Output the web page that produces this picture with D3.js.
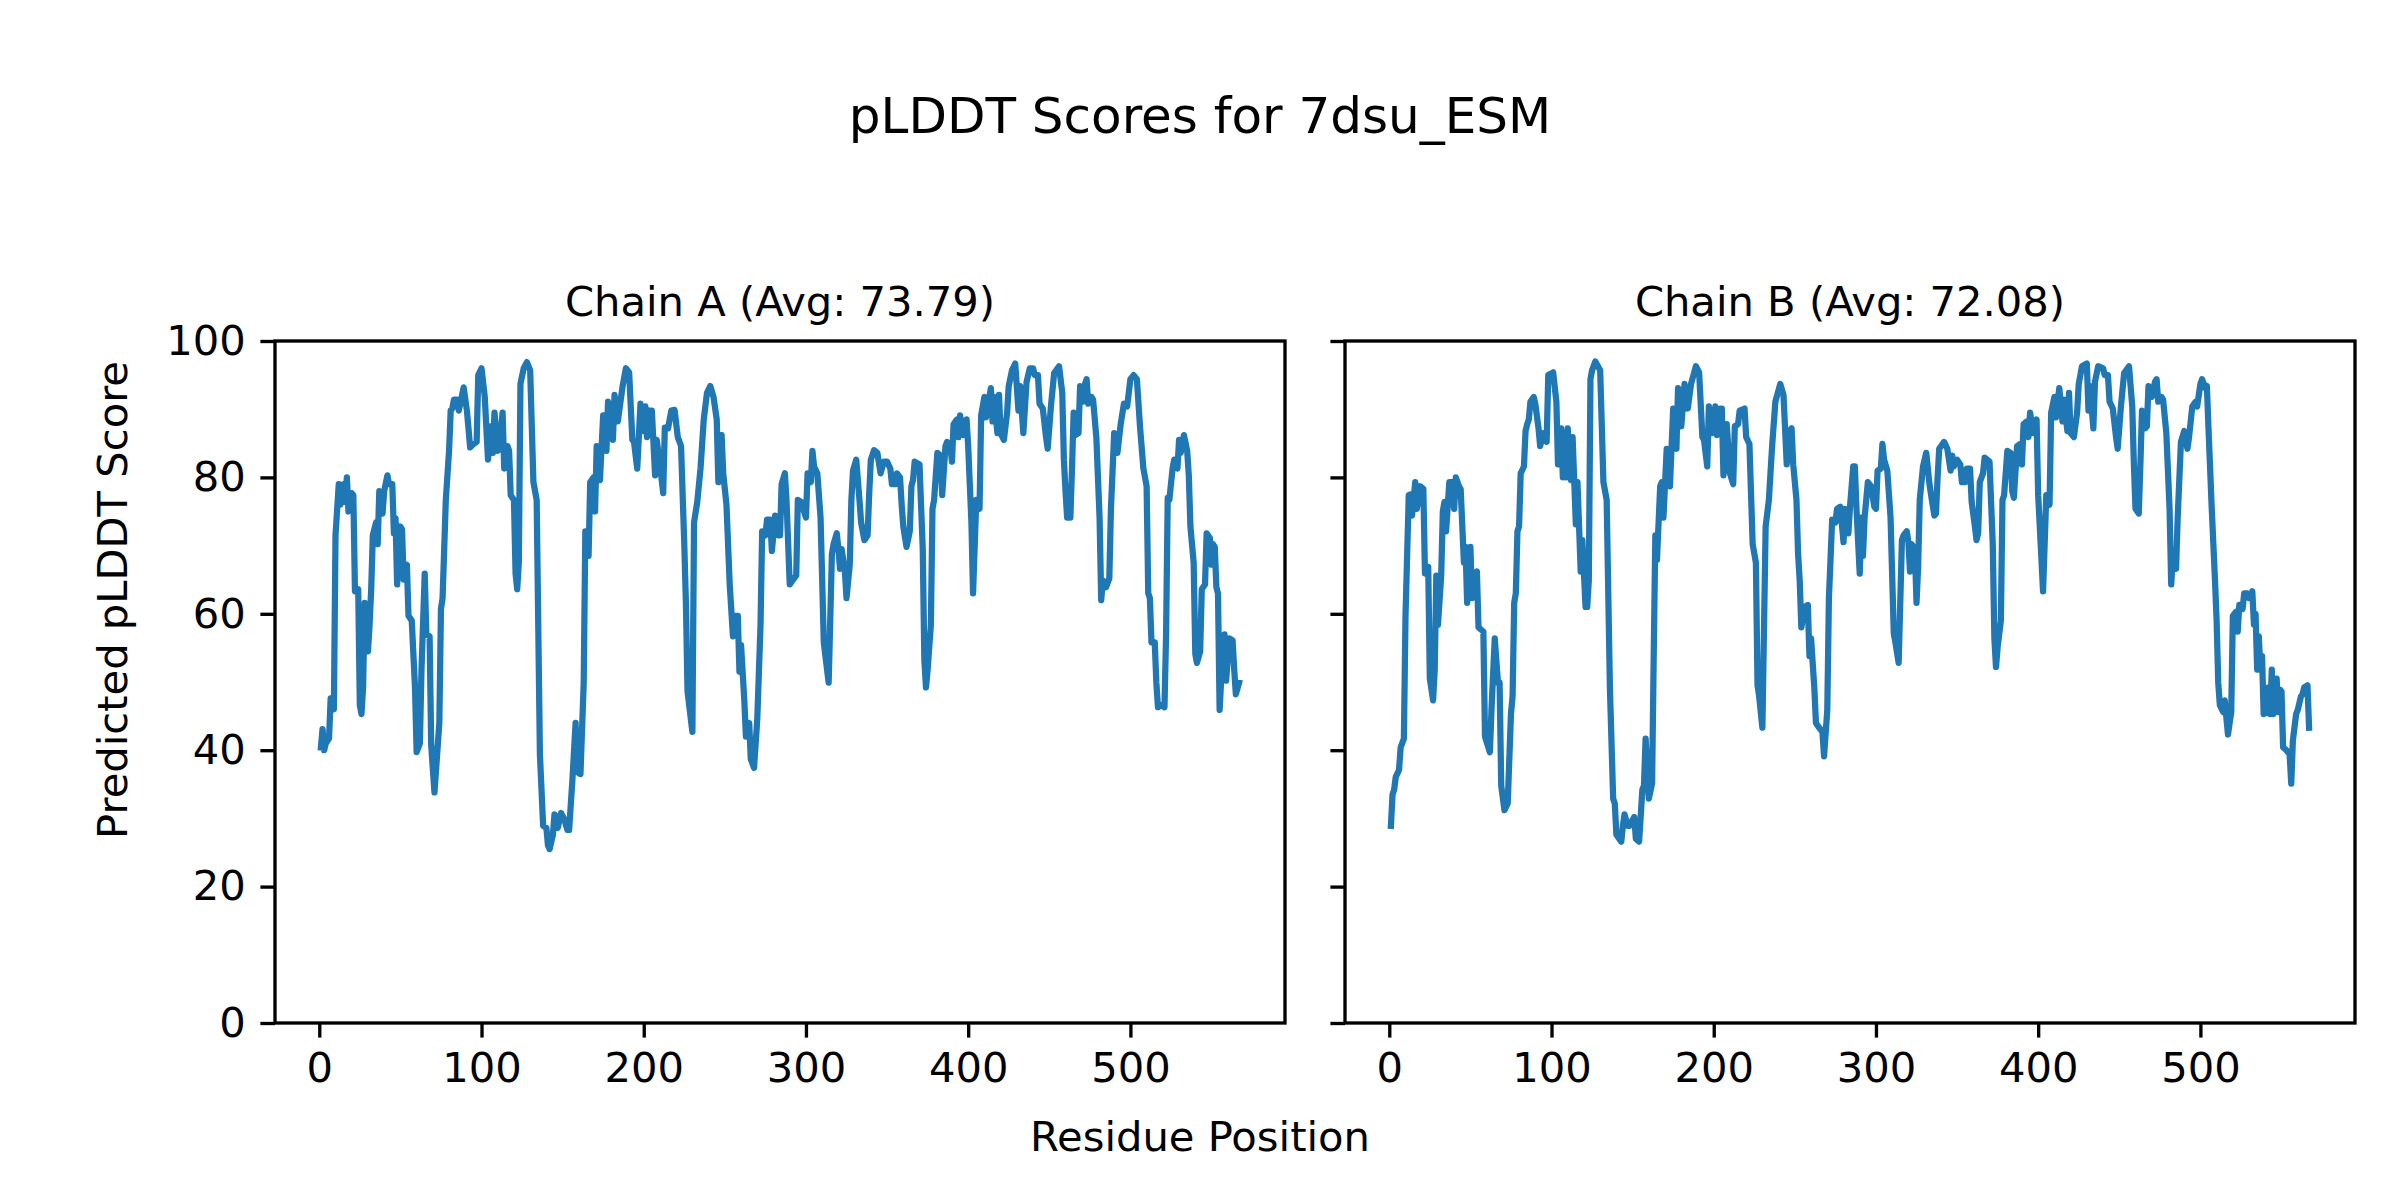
<!DOCTYPE html>
<html>
<head>
<meta charset="utf-8">
<script src="https://cdn.jsdelivr.net/npm/d3@7"></script>
<style>
  body { margin: 0; background: #fff; }
  svg { display: block; font-family: "DejaVu Sans", sans-serif; }
</style>
</head>
<body>
<svg id="chart" width="2400" height="1200"></svg>
<script>
// pLDDT per residue
var chainAPos = [1,2,3,4,6,7,9,10,12,13,15,16,17,18,19,20,21,22,24,25,26,27,28,30,31,32,33,35,36,37,39,40,42,43,45,46,47,48,50,51,52,54,55,57,59,60,62,63,65,66,68,69,71,74,75,76,78,80,81,82,83,85,86,89,91,93,95,97,98,100,102,104,106,107,108,110,111,113,114,116,117,118,120,121,122,123,124,126,128,130,132,134,136,138,140,141,142,144,145,147,149,151,153,154,156,158,159,161,163,164,166,167,169,170,171,173,175,177,178,181,182,184,187,189,191,193,194,196,198,200,201,202,203,205,207,208,210,212,213,215,217,219,221,223,225,226,227,230,231,233,235,237,239,241,243,245,246,248,249,251,253,255,256,258,259,260,262,263,265,266,268,270,272,273,275,276,278,279,281,283,284,285,287,288,290,292,294,295,297,300,301,303,304,305,307,309,311,312,314,316,317,319,320,321,322,324,325,327,328,329,331,333,334,336,338,339,340,342,344,346,348,350,352,353,355,356,358,359,360,362,364,365,366,367,370,372,373,374,375,377,378,379,381,383,384,386,387,389,390,391,393,394,395,397,399,400,402,403,405,407,408,410,411,414,415,416,418,419,420,422,424,425,427,429,431,432,434,436,438,440,441,443,444,446,448,449,451,453,456,458,459,460,461,463,464,465,466,468,469,471,472,473,474,476,477,479,481,482,483,485,487,488,490,491,492,494,496,498,500,502,504,506,508,510,511,512,513,515,516,517,519,521,522,523,524,526,527,529,530,531,533,535,536,537,539,540,541,543,544,546,547,549,550,551,552,553,554,555,556,558,559,561,563,564,565,567];
var chainAScore = [40.4,43.1,40,41,41.7,47.6,46,71.5,79,76,79,76.4,80,75,75.4,77.7,77.4,63.3,63.6,46.6,45.3,49.2,61.6,54.5,58.4,63.6,71.5,73.4,70.2,78,74.7,78,80.3,79,79,71.8,74,64.3,72.8,72.4,65,67.2,59.7,59,49.2,39.7,41,51.8,65.9,57,56.7,40.7,33.8,44,60.7,62.3,76.7,83.9,89.8,90.1,91.4,91.4,89.8,93.2,89.8,84.4,84.9,85.2,95,96,91.8,82.6,87.5,83.6,89.5,83.9,84.2,89.5,81.3,84.6,83.9,77.4,76.7,65.9,63.6,67.5,93.7,96,96.9,95.7,79.3,76.7,39.4,28.9,28.6,26,25.5,27.6,30.6,28.6,30.8,29.9,28.3,28.3,35.5,44,36.8,36.5,49.9,72.1,68.5,79.3,80,75,84.6,79.6,89.1,83.9,91.1,85.5,92.1,88.2,93.4,96,95.4,85.5,85.2,81.3,90.8,86.8,90.4,85.9,89.8,89.8,80.3,85.5,81.9,77.7,87.3,87.2,89.8,89.9,85.9,84.6,70.2,61.6,48.6,42.7,73.4,76.4,81.3,88.5,92.4,93.4,91.8,88.5,79.3,86.2,80.6,76,64.3,56.7,59.7,59.7,51.5,55.4,47.3,42,44,38.7,37.4,44.6,58.4,72.1,71.5,73.8,73.8,69.2,74.4,71.5,71.5,79,80.6,76.7,64.3,65,65.6,76.7,76.4,74.1,80.6,79.3,83.9,81.6,80.6,74.1,55.8,53.8,49.9,68.8,70.2,71.8,69.5,66.6,69.5,66.2,62.3,67.2,76.7,81,82.6,76.7,73.4,70.8,71.5,77.7,82.6,84,83.6,80.6,82.3,82.3,81.3,79,79,80.6,80,76,72.8,69.8,72.1,78.7,79.6,82.3,81.9,69.5,53.1,49.2,51.8,58.4,75.4,76.7,83.6,83.2,77.4,84.6,85.2,84.6,82.3,87.8,88.5,85.9,89.1,86.2,88.5,84.6,73.4,63,76.7,75.4,89.1,91.8,88.8,93.1,88.2,91.8,86.5,92.1,86.5,85.5,89.5,93.4,95.7,96.7,89.8,93.4,86.5,94,96,96,95,95,90.8,90.1,85.9,84.2,90.4,95.3,96.3,92.4,82.6,78,74.1,74.1,81.3,89.5,86.2,86.5,93.4,91.1,93.7,94.4,90.8,91.8,91.4,85.9,74.1,62,64.9,63.9,65.2,75.4,86.5,85.9,83.6,87.8,90.8,90.4,94.4,95,94.4,87.2,81.3,78.7,63,62.3,55.8,55.8,49.9,46.3,46.6,46.3,57.1,77,76.7,81.3,82.6,81.3,85.5,83.6,86.2,83.9,80.3,72.8,67.5,54.1,52.8,54.5,63.6,64.3,71.8,71.1,67.2,70.2,69.8,63.9,63,45.9,50.5,57,50.2,56.4,56.1,51.8,48.2,49.9];

var chainBPos = [1,2,3,4,6,7,9,10,12,13,14,16,17,19,21,22,24,25,27,28,29,30,32,33,34,35,37,39,40,41,43,44,46,47,48,50,51,52,54,55,58,59,62,63,65,67,68,69,71,73,75,76,77,78,79,80,81,83,84,85,86,87,89,90,92,93,95,97,98,101,103,104,106,107,108,109,110,112,113,115,116,118,119,121,122,123,124,125,127,130,132,134,136,138,139,140,143,144,145,147,148,151,152,154,156,157,158,160,162,163,164,165,167,168,169,171,173,175,177,178,180,182,184,186,189,191,193,194,196,197,199,201,202,204,205,206,208,210,212,213,215,216,219,220,222,224,226,227,228,230,232,234,236,238,241,243,245,246,248,249,251,252,253,254,256,258,259,260,262,263,265,267,268,270,271,273,275,276,278,280,281,283,284,286,287,288,290,291,292,293,295,297,299,300,301,303,304,305,307,309,311,312,314,316,317,319,320,321,322,324,325,326,327,329,331,333,334,336,337,338,339,342,344,346,347,348,350,352,353,355,356,358,359,361,362,363,364,366,367,370,372,373,374,375,377,378,379,381,383,384,385,387,389,390,391,393,394,395,397,399,400,401,403,405,407,408,410,411,413,415,416,418,419,420,422,424,425,427,430,431,432,434,435,437,440,441,443,444,446,448,449,451,453,456,458,459,460,462,463,464,466,467,468,470,472,473,474,476,477,479,481,482,483,485,486,488,490,492,493,495,497,498,500,501,503,504,505,507,509,510,511,512,514,515,517,519,520,522,523,524,526,527,529,530,532,533,534,535,536,537,538,539,541,542,543,544,545,547,548,549,550,551,553,555,556,557,559,560,562,563,564,566,567];
var chainBScore = [28.9,33.5,34.2,36.1,37.1,40.4,41.7,59.7,77.4,77.5,74.4,79.3,75.4,78.7,78.3,65.9,66.9,50.5,47.3,51.8,65.6,58.4,65.6,75,76.4,72.1,79.3,79.3,75.4,80,78.7,78.3,67.5,69.8,61.6,69.8,62.3,65.6,66.2,58,57.4,42,39.7,45.9,56.4,49.9,49.9,34.8,31.2,32.2,45.3,47.9,61.6,63,72.1,72.8,80.6,81.6,86.8,87.8,88.5,91.1,91.8,90.8,87.2,84.6,86.5,85.2,95,95.4,91.1,81.9,87.2,80,86.5,80,87.2,79.6,85.9,73.1,79.3,66.2,70.8,61,61,64.9,94.4,95.7,97,95.7,79.3,76.7,49.2,32.9,32.2,27.6,26.6,28.9,30.6,28.9,28.9,30.2,27,26.6,34.2,34.8,41.7,32.9,35.1,53.8,71.5,67.9,78.7,79.3,74.1,84.2,78.7,90.1,84.2,93.1,87.5,93.7,90.1,93.7,96.3,95.4,85.9,85.5,81.6,90.4,86.5,90.4,86.2,90.1,90.1,80.3,87.8,80.6,79,87.5,87.8,89.8,90.1,85.9,84.9,70.2,67.5,49.5,47.9,43.3,72.8,76.7,84.6,91.1,93.7,92.1,81.9,86.5,87.2,81.9,76.7,68.8,64.9,58,61,61.3,53.8,56.4,49.2,44,43.3,42.7,39.1,45.9,62.3,73.8,73.4,75.4,75.7,70.5,75.4,71.8,75.7,81.6,81.6,75.4,65.9,74.1,68.5,74.1,79.3,78.7,75.7,75.4,81,81.3,84.9,82.6,81,74.1,57.1,55.8,52.8,70.8,71.5,72.1,70.5,66.2,70.2,69.5,61.6,66.9,76.7,81.6,83.6,79,77.4,74.4,74.7,80,84.2,85.2,84.2,81,83.2,81.6,82.6,81.9,79.3,79.3,81.3,81.3,76.4,72.8,70.8,71.8,79.3,80.6,82.9,82.3,70.2,56.4,52.2,55.1,59,76.7,77.4,83.9,83.6,78,77,84.6,84.9,81.9,87.8,88.2,85.9,89.5,86.5,88.5,77.4,72.8,63.3,77.4,76,89.5,91.8,88.8,93.1,88.2,91.4,86.8,92.4,86.5,85.9,89.5,93.7,96.3,96.7,89.8,93.4,87.2,94,96.3,96,95,95,91.1,90.1,85.9,84.2,90.4,95.3,96.3,90.4,81.9,75.4,74.7,81.9,89.8,87.2,87.5,93.4,91.8,94,94.4,91.1,91.8,91.4,86.5,75.4,64.3,68.2,66.6,74.1,85.2,86.8,84.2,85.9,90.4,91.1,90.4,93.7,94.4,93.1,93.4,87.2,75.4,64.9,59,49.9,46.6,45.6,47.3,42.3,45.6,59.7,60.3,57.4,61.3,60.7,63,63,62.3,63.3,58.4,60,51.8,56.7,51.8,53.8,45.3,45.6,49.2,45.3,51.8,45.3,50.5,45.6,48.9,48.6,40.4,40,39.4,35.1,41.4,45.3,45.9,47.9,48.2,49.2,49.5,43.3];

var chainTitles = ["Chain A (Avg: 73.79)", "Chain B (Avg: 72.08)"];
var xTicks = [0, 100, 200, 300, 400, 500];
var yTicks = [0, 20, 40, 60, 80, 100];

var svg = d3.select("#chart");
var lineColor = "#1f77b4";
var fontPx = 41.67;
var axTop = 341, axBottom = 1023;
var panels = [
  {left: 275, right: 1285, pos: chainAPos, score: chainAScore, title: chainTitles[0], yLabels: true},
  {left: 1345, right: 2355, pos: chainBPos, score: chainBScore, title: chainTitles[1], yLabels: false}
];

svg.append("rect").attr("width", 2400).attr("height", 1200).attr("fill", "#fff");

// suptitle + shared labels
svg.append("text").attr("x", 1200).attr("y", 133)
  .attr("text-anchor", "middle").attr("font-size", 50).text("pLDDT Scores for 7dsu_ESM");
svg.append("text").attr("x", 1200).attr("y", 1151)
  .attr("text-anchor", "middle").attr("font-size", fontPx).text("Residue Position");
svg.append("text").attr("transform", "translate(127,600) rotate(-90)")
  .attr("text-anchor", "middle").attr("font-size", fontPx).text("Predicted pLDDT Score");

panels.forEach(function (p, i) {
  // matplotlib style 5% margins on x
  var ext = d3.extent(p.pos), pad = (ext[1] - ext[0]) * 0.05;
  var x = d3.scaleLinear().domain([ext[0] - pad, ext[1] + pad]).range([p.left, p.right]);
  var y = d3.scaleLinear().domain([0, 100]).range([axBottom, axTop]);
  var g = svg.append("g");

  g.append("clipPath").attr("id", "clip" + i)
    .append("rect").attr("x", p.left).attr("y", axTop)
    .attr("width", p.right - p.left).attr("height", axBottom - axTop);

  var line = d3.line().x(function (d) { return x(d[0]); }).y(function (d) { return y(d[1]); });
  g.append("path")
    .datum(p.pos.map(function (v, k) { return [v, p.score[k]]; }))
    .attr("clip-path", "url(#clip" + i + ")")
    .attr("d", line)
    .attr("fill", "none").attr("stroke", lineColor)
    .attr("stroke-width", 6.25).attr("stroke-linejoin", "round").attr("stroke-linecap", "square");

  var xa = g.append("g").attr("transform", "translate(0," + axBottom + ")")
    .call(d3.axisBottom(x).tickValues(xTicks).tickSizeInner(14.6).tickSizeOuter(0).tickPadding(14.6));
  var ya = g.append("g").attr("transform", "translate(" + p.left + ",0)")
    .call(d3.axisLeft(y).tickValues(yTicks).tickSizeInner(14.6).tickSizeOuter(0).tickPadding(14.6)
      .tickFormat(p.yLabels ? d3.format("d") : function () { return ""; }));
  [xa, ya].forEach(function (a) {
    a.select(".domain").remove();
    a.selectAll("line").attr("stroke", "#000").attr("stroke-width", 3.33);
    a.selectAll("text").attr("font-size", fontPx).attr("font-family", "DejaVu Sans").attr("fill", "#000");
  });

  g.append("rect").attr("x", p.left).attr("y", axTop)
    .attr("width", p.right - p.left).attr("height", axBottom - axTop)
    .attr("fill", "none").attr("stroke", "#000").attr("stroke-width", 3.33);

  g.append("text").attr("x", (p.left + p.right) / 2).attr("y", axTop - 25)
    .attr("text-anchor", "middle").attr("font-size", fontPx).text(p.title);
});
</script>
</body>
</html>
